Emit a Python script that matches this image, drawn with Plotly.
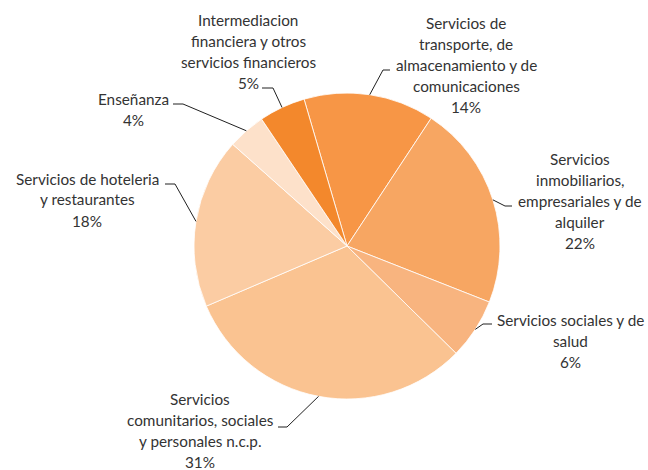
import math
import plotly.graph_objects as go

# ---- data ----
categories = [
    "Servicios de transporte, de almacenamiento y de comunicaciones",
    "Servicios inmobiliarios, empresariales y de alquiler",
    "Servicios sociales y de salud",
    "Servicios comunitarios, sociales y personales n.c.p.",
    "Servicios de hoteleria y restaurantes",
    "Enseñanza",
    "Intermediacion financiera y otros servicios financieros",
]
label_lines = [
    ["Servicios de", "transporte, de", "almacenamiento y de", "comunicaciones"],
    ["Servicios", "inmobiliarios,", "empresariales y de", "alquiler"],
    ["Servicios sociales y de", "salud"],
    ["Servicios", "comunitarios, sociales", "y personales n.c.p."],
    ["Servicios de hoteleria", "y restaurantes"],
    ["Enseñanza"],
    ["Intermediacion", "financiera y otros", "servicios financieros"],
]
values = [13.8, 21.7, 6.4, 31.2, 18.0, 4.0, 4.9]
colors = ["#F79646", "#F7A662", "#F8B47F", "#FAC391", "#FBCCA3", "#FDE1CA", "#F3882C"]

# ---- layout constants (pixels) ----
W, H = 648, 470
CX, CY, R = 347, 246, 153
ROTATION = -16.3
# label block centre (x, y) and leader line: text-end point, elbow point
label_pos = [(466, 65), (580, 201), (570, 341), (200, 430), (87, 199.5), (133, 109), (248, 51.5)]
leader_pts = [((390, 70), (383, 70)), ((512, 206), (505, 206)), ((492, 324), (483, 324)),
              ((278, 427), (287, 427)), ((165, 184), (175, 184)), ((173, 104), (183, 104)),
              ((262, 88), (273, 88))]
LINE_H = 21
FONT = dict(family="Lato, 'Open Sans', sans-serif", size=15.3, color="#333333")


def px(x):
    return x / W


def py(y):
    return 1 - y / H


fig = go.Figure()
fig.add_trace(go.Pie(
    labels=categories, values=values, sort=False, direction="clockwise",
    rotation=ROTATION, textinfo="none", hoverinfo="label+percent",
    marker=dict(colors=colors, line=dict(color="white", width=0.8)),
    domain=dict(x=[px(CX - R), px(CX + R)], y=[py(CY + R), py(CY - R)]),
    showlegend=False,
))

total = sum(values)
cum = 0.0
annotations = []
shapes = []
for i, v in enumerate(values):
    mid = math.radians(ROTATION + (cum + v / 2) / total * 360)
    cum += v
    tip = (CX + R * math.sin(mid), CY - R * math.cos(mid))
    pct = f"{round(v / total * 100):d}%"
    lines = label_lines[i] + [pct]
    lx, ly = label_pos[i]
    n = len(lines)
    for j, t in enumerate(lines):
        yy = ly + (j - (n - 1) / 2) * LINE_H
        annotations.append(dict(x=px(lx), y=py(yy), xref="paper", yref="paper",
                                text=t, showarrow=False, xanchor="center", yanchor="middle",
                                font=FONT))
    (tx, ty), (ex, ey) = leader_pts[i]
    shapes.append(dict(type="path", xref="paper", yref="paper",
                       path=f"M {px(tx)} {py(ty)} L {px(ex)} {py(ey)} L {px(tip[0])} {py(tip[1])}",
                       line=dict(color="#202020", width=1)))

fig.update_layout(
    width=W, height=H, margin=dict(l=0, r=0, t=0, b=0),
    paper_bgcolor="white", plot_bgcolor="white",
    annotations=annotations, shapes=shapes,
)
fig.write_html("out.html", config={"displayModeBar": False},
               post_script="document.body.style.margin='0';document.body.style.padding='0';")
